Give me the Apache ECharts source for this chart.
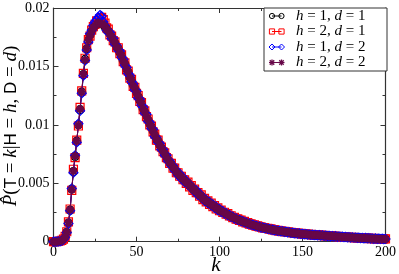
<!DOCTYPE html>
<html>
<head>
<meta charset="utf-8">
<script src="https://cdn.jsdelivr.net/npm/echarts@6/dist/echarts.min.js"></script>
<style>
html,body{margin:0;padding:0;background:#fff;}
#c{width:399px;height:274px;}
</style>
</head>
<body>
<div id="c"></div>
<script>
// values in units of 1e-5, index = k (0..200)
const valueScale = 1e-5;
const kStart = 0;
const xTicks = [0, 50, 100, 150, 200];
const yTicks = [0, 0.005, 0.01, 0.015, 0.02];
const seriesNames = ['h1d1', 'h2d1', 'h1d2', 'h2d2'];
const legendRows = [['1','1'],['2','1'],['1','2'],['2','2']];

const h1d1 = [
0,0,0,2,5,10,20,40,80,160,
270,450,600,730,860,1000,1130,1280,1430,1560,
1650,1720,1770,1800,1830,1850,1860,1870,1870,1870,
1860,1840,1820,1800,1780,1750,1730,1700,1670,1650,
1620,1590,1550,1520,1480,1450,1410,1380,1340,1310,
1280,1240,1210,1180,1140,1110,1080,1040,1010,980,
950,910,880,860,830,800,780,750,730,700,
680,660,640,620,600,580,570,550,540,520,
510,500,480,470,450,440,430,410,400,390,
370,360,350,340,330,320,310,300,290,280,
270,262,254,246,238,230,223,216,209,202,
196,190,184,178,172,167,162,157,152,147,
143,139,135,131,127,123,120,117,114,111,
108,105,102,99,96,94,92,90,88,86,
84,82,80,78,76,74,72,71,70,68,
66,65,64,62,61,60,59,58,57,56,
55,54,53,52,51,50,49,48,47,46,
45,44,43,42,41,40,39,38,37,37,
36,35,34,33,33,32,31,30,30,29,
28,28,27,26,26,25,25,24,24,23,
23];
const h2d1 = [
0,0,1,3,6,12,22,45,85,170,
280,440,620,720,870,990,1150,1290,1440,1570,
1660,1730,1760,1810,1840,1860,1890,1880,1910,1920,
1900,1870,1830,1820,1770,1760,1720,1710,1660,1660,
1610,1600,1540,1530,1470,1460,1400,1390,1330,1320,
1270,1250,1200,1190,1130,1120,1070,1050,1000,990,
940,920,870,870,820,810,770,760,720,710,
670,670,630,630,590,590,560,560,530,530,
500,510,470,480,440,450,420,420,390,400,
360,370,340,350,320,330,300,310,280,290,
265,270,250,252,235,240,220,222,206,208,
194,196,182,184,170,174,160,164,150,153,
142,145,134,136,126,128,119,121,113,115,
107,109,101,103,95,97,91,93,87,89,
83,85,79,81,75,77,71,74,69,71,
65,68,63,65,60,62,58,60,56,58,
54,56,52,54,50,52,48,50,46,48,
44,46,42,44,40,42,38,40,36,38,
35,37,33,35,32,34,30,32,29,31,
27,29,26,28,25,27,24,26,23,25,
24];
const h1d2 = [
0,0,0,2,4,9,18,38,78,155,
265,455,590,740,850,1010,1120,1270,1420,1550,
1640,1710,1780,1810,1850,1880,1900,1920,1940,1930,
1880,1850,1810,1790,1790,1740,1740,1690,1680,1640,
1630,1580,1560,1510,1490,1440,1420,1370,1350,1300,
1290,1230,1220,1170,1150,1100,1090,1030,1020,970,
960,900,890,850,840,790,790,740,740,690,
690,650,650,610,610,570,580,540,550,510,
520,490,490,460,460,430,440,400,410,380,
380,350,360,330,340,310,320,290,300,270,
280,255,262,240,245,226,230,212,214,198,
200,187,188,176,176,165,165,155,154,145,
146,137,138,129,130,121,123,115,116,109,
110,103,104,97,98,92,94,88,90,84,
86,80,82,76,78,72,74,69,72,66,
68,63,66,60,63,58,61,56,59,54,
57,52,55,50,53,48,51,46,49,44,
47,42,45,41,43,39,41,37,39,35,
38,34,36,32,35,31,33,29,32,28,
30,27,29,25,28,24,27,23,26,22,
24];
const h2d2 = [
0,0,0,2,5,11,21,42,82,165,
275,445,605,735,865,995,1135,1285,1435,1555,
1655,1725,1765,1805,1835,1845,1865,1875,1865,1865,
1855,1845,1815,1805,1775,1755,1725,1705,1665,1655,
1615,1595,1545,1525,1475,1455,1405,1385,1335,1315,
1275,1245,1205,1185,1135,1115,1075,1045,1005,985,
945,915,875,865,825,805,775,755,725,705,
675,665,635,625,595,585,565,555,535,525,
505,505,475,475,445,445,425,415,395,395,
365,365,345,345,325,325,305,305,285,285,
268,265,252,249,236,233,221,219,207,205,
195,192,183,180,171,169,161,159,151,149,
142,141,134,133,126,125,119,118,113,112,
107,106,101,100,95,95,91,91,87,87,
83,83,79,79,75,75,71,72,69,69,
65,66,63,63,60,61,58,59,56,57,
54,55,52,53,50,51,48,49,46,47,
44,45,42,43,40,41,38,39,36,37,
35,36,33,34,32,33,30,31,29,30,
27,28,26,27,25,26,24,25,23,24,
22];

const colors = ['#000000', '#ff0000', '#0000ff', '#670748'];
const starPath = 'path://M5,0L5,10M0,5L10,5M1.5,1.5L8.5,8.5M1.5,8.5L8.5,1.5';

function toPairs(arr){ return arr.map((v,i)=>[kStart+i, v*valueScale]); }

const chart = echarts.init(document.getElementById('c'), null, {renderer:'canvas'});
const serif = 'Liberation Serif, Times New Roman, serif';
const grid = {left:53.5, top:8, right:12, bottom:32.3};

const axisCommon = {
  axisLine:{show:true, onZero:false, lineStyle:{color:'#333', width:1.2}},
  axisTick:{show:true, inside:true, length:5, lineStyle:{color:'#333'}},
  minorTick:{show:true, splitNumber:2, length:3, lineStyle:{color:'#333'}},
  splitLine:{show:false}
};

const symbolDefs = [
  {symbol:'circle', size:8, fill:'rgba(0,0,0,0)', bw:1.2},
  {symbol:'rect', size:8, fill:'rgba(0,0,0,0)', bw:1.2},
  {symbol:'diamond', size:9, fill:'rgba(0,0,0,0)', bw:1.2},
  {symbol:starPath, size:8, fill:colors[3], bw:2.2}
];
const allData = [h1d1, h2d1, h1d2, h2d2];

const series = allData.map((arr, i) => ({
  name: seriesNames[i],
  type:'line',
  data: toPairs(arr),
  symbol: symbolDefs[i].symbol,
  symbolSize: symbolDefs[i].size,
  clip:false,
  animation:false,
  lineStyle:{color:colors[i], width:1},
  itemStyle:{color:symbolDefs[i].fill, borderColor:colors[i], borderWidth:symbolDefs[i].bw},
  emphasis:{disabled:true},
  z: 2+i
}));

// legend graphic
const lg = [];
const boxX = 264, boxY = 8, boxW = 123, boxH = 63;
lg.push({type:'rect', shape:{x:boxX, y:boxY, width:boxW, height:boxH}, style:{fill:'#fff', stroke:'#333', lineWidth:1}, z:100});
const rowY = [16, 31.5, 47, 62.5];
function markerGraphic(i, cx, cy){
  const st = {fill:'none', stroke:colors[i], lineWidth:1};
  if(i===0) return {type:'circle', shape:{cx:cx, cy:cy, r:2.6}, style:st, z:102};
  if(i===1) return {type:'rect', shape:{x:cx-2.6, y:cy-2.6, width:5.2, height:5.2}, style:st, z:102};
  if(i===2) return {type:'polygon', shape:{points:[[cx,cy-3],[cx+3,cy],[cx,cy+3],[cx-3,cy]]}, style:st, z:102};
  return {type:'group', z:102, children:[
    {type:'line', shape:{x1:cx-3,y1:cy,x2:cx+3,y2:cy}, style:{stroke:colors[3], lineWidth:1.3}, z:102},
    {type:'line', shape:{x1:cx,y1:cy-3,x2:cx,y2:cy+3}, style:{stroke:colors[3], lineWidth:1.3}, z:102},
    {type:'line', shape:{x1:cx-2.2,y1:cy-2.2,x2:cx+2.2,y2:cy+2.2}, style:{stroke:colors[3], lineWidth:1.3}, z:102},
    {type:'line', shape:{x1:cx-2.2,y1:cy+2.2,x2:cx+2.2,y2:cy-2.2}, style:{stroke:colors[3], lineWidth:1.3}, z:102}
  ]};
}
legendRows.forEach((r, i) => {
  const y = rowY[i];
  lg.push({type:'line', shape:{x1:272, y1:y, x2:281.5, y2:y}, style:{stroke:colors[i], lineWidth:1}, z:101});
  lg.push(markerGraphic(i, 272, y));
  lg.push(markerGraphic(i, 281.5, y));
  lg.push({type:'text', x:296, y:y, z:103, style:{
    text:'{it|h}{n| = ' + r[0] + ', }{it|d}{n| = ' + r[1] + '}',
    verticalAlign:'middle', align:'left',
    rich:{
      it:{fontFamily:serif, fontStyle:'italic', fontSize:15, fill:'#000'},
      n:{fontFamily:serif, fontSize:15, fill:'#000'}
    }
  }});
});

// axis titles
lg.push({type:'text', x:11, y:126, rotation:Math.PI/2, z:50, style:{
  text:'{it|P̂}{n|(}{s|T}{n| = }{it|k}{n||}{s|H}{n| = }{it|h}{n|, }{s|D}{n| = }{it|d}{n|)}',
  align:'center', verticalAlign:'middle',
  rich:{
    it:{fontFamily:serif, fontStyle:'italic', fontSize:19, fill:'#000'},
    n:{fontFamily:serif, fontSize:19, fill:'#000'},
    s:{fontFamily:'Liberation Sans, Arial, sans-serif', fontSize:17, fill:'#000'}
  }
}});
lg.push({type:'text', x:216, y:265, z:50, style:{
  text:'k', align:'center', verticalAlign:'middle',
  font:'italic 21px ' + serif, fill:'#000'
}});

chart.setOption({
  animation:false,
  backgroundColor:'#fff',
  grid: grid,
  xAxis:[
    Object.assign({type:'value', min:xTicks[0], max:xTicks[xTicks.length-1], interval:50, position:'bottom',
      axisLabel:{show:true, margin:4, color:'#000', fontFamily:serif, fontSize:14}}, axisCommon),
    Object.assign({type:'value', min:xTicks[0], max:xTicks[xTicks.length-1], interval:50, position:'top',
      axisLabel:{show:false}}, axisCommon)
  ],
  yAxis:[
    Object.assign({type:'value', min:yTicks[0], max:yTicks[yTicks.length-1], interval:0.005, position:'left',
      axisLabel:{show:true, margin:4, color:'#000', fontFamily:serif, fontSize:14}}, axisCommon),
    Object.assign({type:'value', min:yTicks[0], max:yTicks[yTicks.length-1], interval:0.005, position:'right',
      axisLabel:{show:false}}, axisCommon)
  ],
  series: series,
  graphic: lg
});
</script>
</body>
</html>
